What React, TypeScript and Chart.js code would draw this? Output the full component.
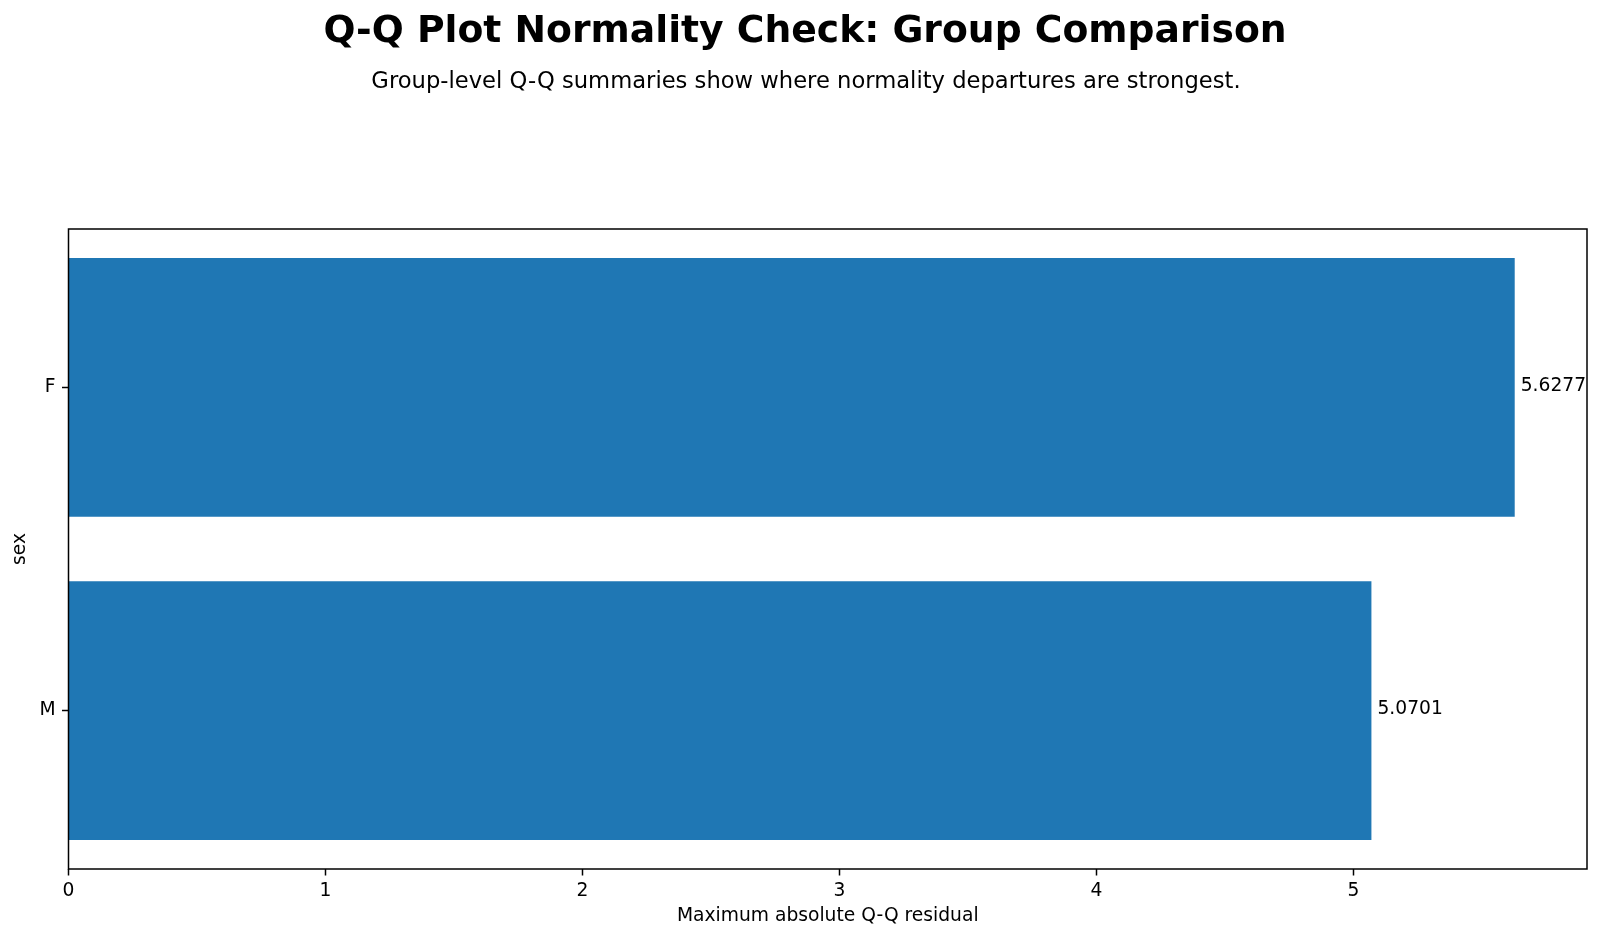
import React, { useEffect, useRef } from 'react';
import { Chart, registerables } from 'chart.js';
Chart.register(...registerables);

const categories = ['F', 'M'];
const values = [5.6277, 5.0701];
const xTicks = [0, 1, 2, 3, 4, 5];
const TITLE = 'Q-Q Plot Normality Check: Group Comparison';
const SUBTITLE = 'Group-level Q-Q summaries show where normality departures are strongest.';
const X_LABEL = 'Maximum absolute Q-Q residual';
const Y_LABEL = 'sex';
const X_MAX = 5.909;
const Y_MIN = -0.49;
const Y_MAX = 1.49;

const FONT = "'DejaVu Sans', sans-serif";

export default function App() {
  const ref = useRef<HTMLCanvasElement>(null);
  useEffect(() => {
    document.body.style.margin = '0';
    const n = categories.length;
    const pos = (i: number) => n - 1 - i;
    const decor = {
      id: 'decor',
      afterDatasetsDraw(chart: any) {
        const ctx = chart.ctx;
        const { left, top, right, bottom } = chart.chartArea;
        ctx.save();
        ctx.strokeStyle = '#000';
        ctx.lineWidth = 1.5;
        ctx.strokeRect(left, top, right - left, bottom - top);
        const meta = chart.getDatasetMeta(0);
        ctx.font = `18.7px ${FONT}`;
        ctx.fillStyle = '#000';
        ctx.textBaseline = 'middle';
        ctx.textAlign = 'left';
        meta.data.forEach((bar: any, i: number) => {
          ctx.fillText(values[i].toFixed(4), bar.x + 6, bar.y - 1);
        });
        ctx.textAlign = 'center';
        ctx.textBaseline = 'alphabetic';
        ctx.font = `bold 37.7px ${FONT}`;
        ctx.fillText(TITLE, 805, 42);
        ctx.font = `22.65px ${FONT}`;
        ctx.fillText(SUBTITLE, 806, 88);
        ctx.restore();
      },
    };
    const chart = new Chart(ref.current!, {
      type: 'bar',
      data: {
        datasets: [
          {
            data: values.map((v, i) => ({ x: v, y: pos(i) })),
            backgroundColor: '#1f77b4',
            borderWidth: 0,
            barPercentage: 0.8,
            categoryPercentage: 1,
          },
        ],
      },
      options: {
        indexAxis: 'y',
        animation: false,
        responsive: false,
        devicePixelRatio: 1,
        layout: { padding: { top: 229, right: 13, left: 0, bottom: 0 } },
        plugins: { legend: { display: false }, tooltip: { enabled: false }, title: { display: false } },
        scales: {
          x: {
            type: 'linear',
            min: 0,
            max: X_MAX,
            ticks: {
              stepSize: 1,
              includeBounds: false,
              color: '#000',
              font: { family: FONT, size: 18.7 },
              padding: 4,
              callback: (v: any) => (xTicks.includes(Number(v)) ? String(v) : ''),
            },
            grid: { drawOnChartArea: false, drawTicks: true, tickLength: 6.5, tickColor: '#000', tickWidth: 1.5 },
            border: { display: false },
            title: { display: true, text: X_LABEL, color: '#000', font: { family: FONT, size: 18.7 }, padding: { top: 0, bottom: 12 } },
            afterFit: (s: any) => { s.height = 70; },
          },
          y: {
            type: 'linear',
            min: Y_MIN,
            max: Y_MAX,
            offset: false,
            afterBuildTicks: (s: any) => {
              s.ticks = categories.map((_, i) => ({ value: pos(i) }));
            },
            ticks: {
              color: '#000',
              font: { family: FONT, size: 18.7 },
              padding: 6.5,
              callback: (v: any) => categories[n - 1 - Number(v)] ?? '',
            },
            grid: { offset: false, drawOnChartArea: false, drawTicks: true, tickLength: 6.5, tickColor: '#000', tickWidth: 1.5 },
            border: { display: false },
            title: { display: true, text: Y_LABEL, color: '#000', font: { family: FONT, size: 18.7 }, padding: { top: 9, bottom: 0 } },
            afterFit: (s: any) => { s.width = 68.5; },
          },
        },
      },
      plugins: [decor],
    } as any);
    return () => chart.destroy();
  }, []);
  return (
    <div style={{ width: 1600, height: 939, background: '#fff' }}>
      <canvas ref={ref} width={1600} height={939} style={{ display: 'block' }} />
    </div>
  );
}
